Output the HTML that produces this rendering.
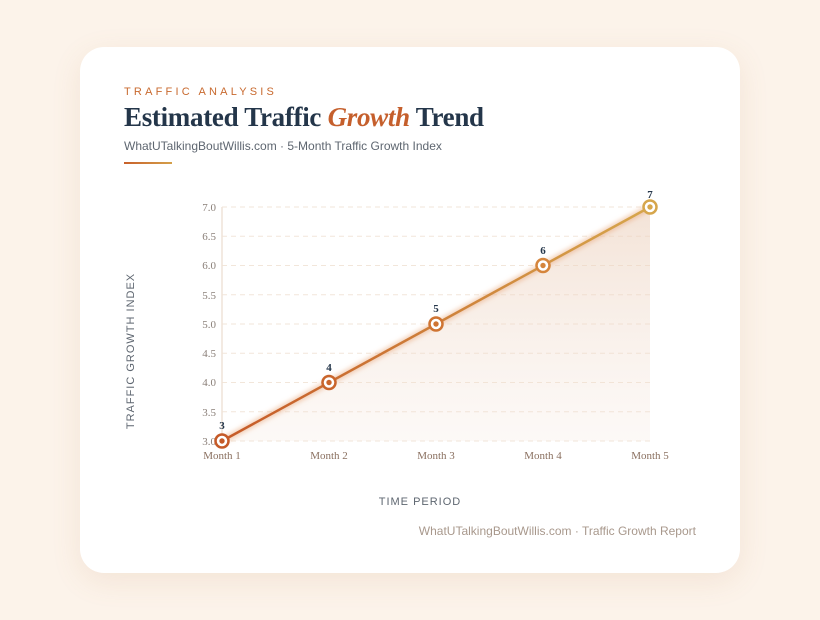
<!DOCTYPE html>
<html><head><meta charset="utf-8"><style>
html,body{margin:0;padding:0;width:820px;height:620px;background:#fcf3ea;overflow:hidden;font-family:"Liberation Sans",sans-serif}
.card{position:absolute;left:80px;top:47px;width:660px;height:526px;background:#fff;border-radius:24px;box-shadow:0 8px 30px rgba(180,120,70,0.12)}
.kick{position:absolute;left:124px;top:86px;font-size:11px;letter-spacing:3.2px;color:#c8692e}
.title{position:absolute;left:124px;top:102px;font-family:"Liberation Serif",serif;font-weight:bold;font-size:27px;color:#24364a;letter-spacing:-0.3px}
.title i{color:#c55f2c}
.sub{position:absolute;left:124px;top:139px;font-size:12px;color:#5e6670}
.bar{position:absolute;left:124px;top:162px;width:48px;height:2px;background:linear-gradient(90deg,#c8602a,#d4a04a)}
.foot{position:absolute;right:124px;top:524px;font-size:12px;color:#a8988c}
</style></head><body>
<div class="card"></div>
<div class="kick">TRAFFIC ANALYSIS</div>
<div class="title">Estimated Traffic <i>Growth</i> Trend</div>
<div class="sub">WhatUTalkingBoutWillis.com · 5-Month Traffic Growth Index</div>
<div class="bar"></div>
<svg width="820" height="620" style="position:absolute;left:0;top:0">
<defs>
<linearGradient id="lg" x1="222" y1="0" x2="650" y2="0" gradientUnits="userSpaceOnUse"><stop offset="0" stop-color="#c65a28"/><stop offset="1" stop-color="#d6a64c"/></linearGradient>
<linearGradient id="fg" x1="0" y1="207" x2="0" y2="441" gradientUnits="userSpaceOnUse"><stop offset="0" stop-color="#ecd0bc" stop-opacity="0.6"/><stop offset="1" stop-color="#f3e2d6" stop-opacity="0.2"/></linearGradient>
<filter id="gl"><feGaussianBlur stdDeviation="2.5"/></filter>
</defs>
<g stroke="#f2e6da" stroke-dasharray="5,4" stroke-width="1">
<line x1="222" x2="650" y1="207" y2="207"/><line x1="222" x2="650" y1="236.3" y2="236.3"/><line x1="222" x2="650" y1="265.5" y2="265.5"/><line x1="222" x2="650" y1="294.8" y2="294.8"/><line x1="222" x2="650" y1="324" y2="324"/><line x1="222" x2="650" y1="353.3" y2="353.3"/><line x1="222" x2="650" y1="382.5" y2="382.5"/><line x1="222" x2="650" y1="411.8" y2="411.8"/><line x1="222" x2="650" y1="441" y2="441"/>
</g>
<line x1="222" y1="207" x2="222" y2="441" stroke="#efe3d8" stroke-width="1.5"/>
<g font-family="Liberation Serif,serif" font-size="11" fill="#8a7f78" text-anchor="end">
<text x="216" y="211">7.0</text><text x="216" y="240">6.5</text><text x="216" y="269">6.0</text><text x="216" y="299">5.5</text><text x="216" y="328">5.0</text><text x="216" y="357">4.5</text><text x="216" y="386">4.0</text><text x="216" y="416">3.5</text><text x="216" y="445">3.0</text>
</g>
<g font-family="Liberation Serif,serif" font-size="11" fill="#8a7060" text-anchor="middle">
<text x="222" y="459">Month 1</text><text x="329" y="459">Month 2</text><text x="436" y="459">Month 3</text><text x="543" y="459">Month 4</text><text x="650" y="459">Month 5</text>
</g>
<polygon points="222,441 650,207 650,441" fill="url(#fg)"/>
<polyline points="222,441 650,207" stroke="#e8a070" stroke-opacity="0.5" stroke-width="6" filter="url(#gl)" fill="none"/>
<line x1="222" y1="441" x2="650" y2="207" stroke="url(#lg)" stroke-width="2.5"/>
<g stroke-width="2.5" fill="#fff">
<circle cx="222" cy="441" r="6.5" stroke="#c55a28"/><circle cx="329" cy="382.5" r="6.5" stroke="#c9652c"/><circle cx="436" cy="324" r="6.5" stroke="#cf7432"/><circle cx="543" cy="265.5" r="6.5" stroke="#d5853c"/><circle cx="650" cy="207" r="6.5" stroke="#d6a64c"/>
</g>
<circle cx="222" cy="441" r="2.7" fill="#c55a28"/><circle cx="329" cy="382.5" r="2.7" fill="#c9652c"/><circle cx="436" cy="324" r="2.7" fill="#cf7432"/><circle cx="543" cy="265.5" r="2.7" fill="#d5853c"/><circle cx="650" cy="207" r="2.7" fill="#d6a64c"/>
<g font-family="Liberation Serif,serif" font-size="11" font-weight="bold" fill="#24364a" text-anchor="middle">
<text x="222" y="429">3</text><text x="329" y="371">4</text><text x="436" y="312">5</text><text x="543" y="254">6</text><text x="650" y="198">7</text>
</g>
<text x="420" y="505" text-anchor="middle" font-size="11" letter-spacing="1" fill="#5e6670">TIME PERIOD</text>
<text transform="translate(134,351) rotate(-90)" text-anchor="middle" font-size="11" letter-spacing="1" fill="#5e6670">TRAFFIC GROWTH INDEX</text>
</svg>
<div class="foot">WhatUTalkingBoutWillis.com · Traffic Growth Report</div>
</body></html>
